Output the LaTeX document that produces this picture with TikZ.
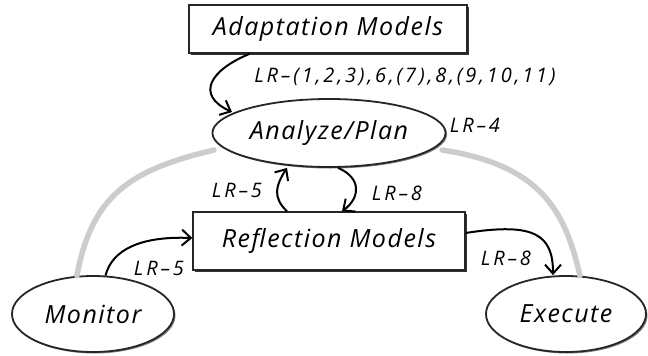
\documentclass[tikz,border=0pt]{standalone}
\usepackage{fontspec}
\setmainfont{Open Sans}
\newfontfamily\mainhand[LetterSpace=6]{Open Sans}
\newfontfamily\lblhand[LetterSpace=14]{Open Sans}
\usetikzlibrary{shapes.geometric,arrows.meta,shadows}
\begin{document}
\begin{tikzpicture}[x=1pt,y=-1pt,
  box/.style={draw=black!85,line width=1.3pt,fill=white,rectangle,
    drop shadow={shadow xshift=2pt,shadow yshift=-2pt,fill=black!80,opacity=1},
    font=\mainhand\fontsize{25}{28}\selectfont\itshape},
  oval/.style={draw=black!85,line width=1.8pt,fill=white,ellipse,
    drop shadow={shadow xshift=1.5pt,shadow yshift=-1.5pt,fill=black!50,opacity=1},
    font=\mainhand\fontsize{25}{28}\selectfont\itshape},
  lbl/.style={font=\lblhand\fontsize{20}{23}\selectfont\itshape,inner sep=0pt},
  flow/.style={line width=2pt,-{Straight Barb[length=9pt,width=16pt,line width=2pt]}},
  ghost/.style={line width=5.5pt,draw=black!20,line cap=round}
]
\useasboundingbox (0,0) rectangle (648,356);
\node[oval,minimum width=162pt,minimum height=76pt] (mon) at (93,314) {Monitor};
\node[oval,minimum width=160pt,minimum height=76pt] (exe) at (566,314) {Execute};
\node[box,minimum width=278pt,minimum height=48pt] (am) at (328,29) {Adaptation Models};
\node[box,minimum width=272pt,minimum height=58pt] (rm) at (329,241) {Reflection Models};

\draw[ghost] (mon.113) .. controls (92,195) and (130,170) .. (214,150);
\draw[ghost] (442,150) .. controls (540,165) and (565,210) .. (exe.70);

\node[oval,minimum width=226pt,minimum height=68pt] (ap) at (329,133) {Analyze/Plan};

% labels
\node[lbl] (l1) at (405,77) {LR–(1,2,3),6,(7),8,(9,10,11)};
\node[lbl] (l4) at (475,125) {LR–4};
\node[lbl] (l5a) at (237,190) {LR–5};
\node[lbl] (l8a) at (397,193) {LR–8};
\node[lbl] (l8b) at (506,258) {LR–8};
\node[lbl] (l5b) at (159,268) {LR–5};

% arrows
\draw[flow] ([xshift=-78pt]am.south) .. controls (210,70) and (195,95) .. (232,112);
\draw[flow] ([xshift=-42pt]rm.north) .. controls (272,197) and (276,185) .. ([xshift=-42pt]ap.south);
\draw[flow] ([xshift=9pt]ap.south) .. controls (362,178) and (360,198) .. ([xshift=13pt]rm.north);
\draw[flow] ([yshift=8pt]rm.east) .. controls (535,222) and (553,235) .. ([xshift=-13pt]exe.north);
\draw[flow] (mon.72) .. controls (112,250) and (140,236) .. ([yshift=3pt]rm.west);
\end{tikzpicture}
\end{document}
